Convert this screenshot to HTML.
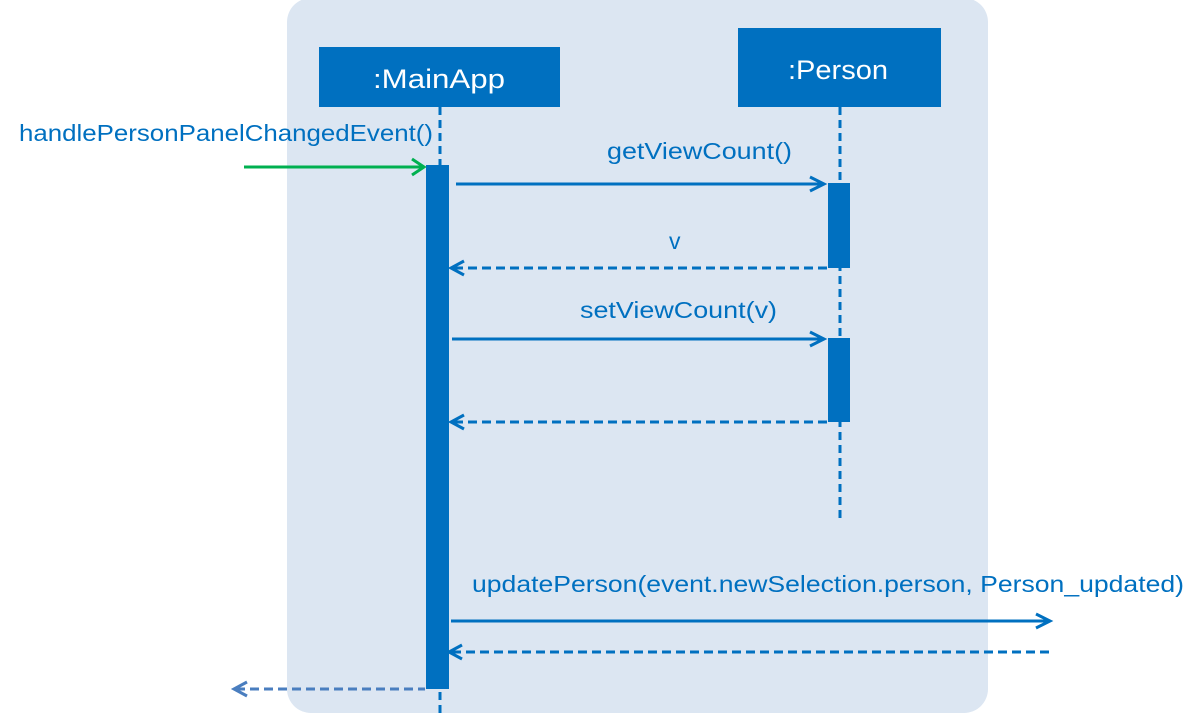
<!DOCTYPE html>
<html><head><meta charset="utf-8"><style>
html,body{margin:0;padding:0;background:#fff}
svg text{font-family:"Liberation Sans","DejaVu Sans",sans-serif;fill:#0070c0}
</style></head><body>
<svg width="1203" height="713" viewBox="0 0 1203 713" xmlns="http://www.w3.org/2000/svg">
<rect x="287" y="-2" width="701" height="715" rx="24" fill="#dce6f2"/>
<rect x="319" y="47" width="241" height="60" fill="#0070c0"/>
<text x="373" y="88" font-size="27" textLength="132" lengthAdjust="spacingAndGlyphs" style="fill:#fff">:MainApp</text>
<rect x="738" y="28" width="203" height="79" fill="#0070c0"/>
<text x="788" y="79" font-size="27" textLength="100" lengthAdjust="spacingAndGlyphs" style="fill:#fff">:Person</text>
<g stroke="#0070c0" stroke-width="3" fill="none">
<line x1="440" y1="107" x2="440" y2="713" stroke-dasharray="8,5"/>
<line x1="840" y1="107" x2="840" y2="522" stroke-dasharray="8,5"/>
</g>
<rect x="426" y="165" width="23" height="524" fill="#0070c0"/>
<rect x="828" y="183" width="22" height="85" fill="#0070c0"/>
<rect x="828" y="338" width="22" height="84" fill="#0070c0"/>
<text x="19" y="141" font-size="23" textLength="414" lengthAdjust="spacingAndGlyphs">handlePersonPanelChangedEvent()</text>
<g stroke="#00b050" stroke-width="3" fill="none">
<line x1="244" y1="167" x2="424" y2="167"/><polyline points="412,159 424,167 412,175"/>
</g>
<g stroke="#0070c0" stroke-width="3" fill="none">
<line x1="456" y1="184" x2="824" y2="184"/><polyline points="810,177 824,184 810,191"/>
<line x1="454" y1="268" x2="828" y2="268" stroke-dasharray="9,5"/><polyline points="464,261 451,268 464,275"/>
<line x1="452" y1="339" x2="824" y2="339"/><polyline points="810,332 824,339 810,346"/>
<line x1="454" y1="422" x2="828" y2="422" stroke-dasharray="9,5"/><polyline points="464,415 451,422 464,429"/>
<line x1="451" y1="621" x2="1050" y2="621"/><polyline points="1036,614 1050,621 1036,628"/>
<line x1="452" y1="652" x2="1050" y2="652" stroke-dasharray="9,5"/><polyline points="462,645 449,652 462,659"/>
</g>
<g stroke="#4a7ebf" stroke-width="3" fill="none">
<line x1="236" y1="689" x2="425" y2="689" stroke-dasharray="9,5"/><polyline points="247,682 234,689 247,696"/>
</g>
<text x="607" y="159" font-size="23" textLength="185" lengthAdjust="spacingAndGlyphs">getViewCount()</text>
<text x="669" y="249" font-size="23">v</text>
<text x="580" y="318" font-size="23" textLength="197" lengthAdjust="spacingAndGlyphs">setViewCount(v)</text>
<text x="472" y="592" font-size="23" textLength="712" lengthAdjust="spacingAndGlyphs">updatePerson(event.newSelection.person, Person_updated)</text>
</svg>
</body></html>
